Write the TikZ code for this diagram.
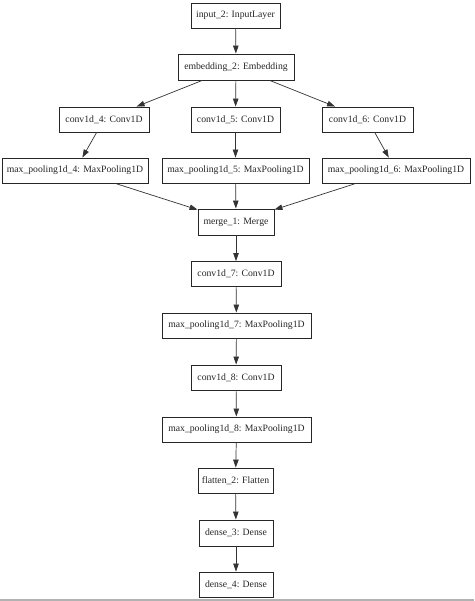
\documentclass[tikz,border=0pt]{standalone}
\usepackage{fontspec}
\setmainfont{Liberation Serif}
\usetikzlibrary{arrows.meta}
\tikzset{
  layer/.style={draw=black!85, line width=0.9pt, rectangle, inner sep=0pt, minimum height=25pt, font=\fontsize{9.7}{11}\selectfont, text=black!85},
  conn/.style={draw=black!80, line width=0.7pt, -{Triangle[length=8pt,width=5.5pt]}}
}
\begin{document}
\begin{tikzpicture}[x=1pt,y=-1pt]
\useasboundingbox (0,0) rectangle (474,601);
\fill[white] (0,0) rectangle (474,601);
\fill[black!30] (0,599) rectangle (474,601);
\node[layer, minimum width=89pt] (in) at (235.5,15.5) {input\_2: InputLayer};
\node[layer, minimum width=116pt, minimum height=26pt] (emb) at (236,67) {embedding\_2: Embedding};
\node[layer, minimum width=90pt] (c4) at (104,119.5) {conv1d\_4: Conv1D};
\node[layer, minimum width=89pt] (c5) at (235.5,119.5) {conv1d\_5: Conv1D};
\node[layer, minimum width=91pt] (c6) at (367.5,119.5) {conv1d\_6: Conv1D};
\node[layer, minimum width=146pt] (m4) at (75,170.5) {max\_pooling1d\_4: MaxPooling1D};
\node[layer, minimum width=147pt] (m5) at (235.5,170.5) {max\_pooling1d\_5: MaxPooling1D};
\node[layer, minimum width=148pt] (m6) at (396,170.5) {max\_pooling1d\_6: MaxPooling1D};
\node[layer, minimum width=76pt, minimum height=26pt] (mg) at (236,222) {merge\_1: Merge};
\node[layer, minimum width=90pt] (c7) at (236,274) {conv1d\_7: Conv1D};
\node[layer, minimum width=149pt] (m7) at (236.5,325.5) {max\_pooling1d\_7: MaxPooling1D};
\node[layer, minimum width=90pt] (c8) at (236,377.5) {conv1d\_8: Conv1D};
\node[layer, minimum width=149pt] (m8) at (236.5,429.5) {max\_pooling1d\_8: MaxPooling1D};
\node[layer, minimum width=75pt] (fl) at (235.5,480.5) {flatten\_2: Flatten};
\node[layer, minimum width=74pt, minimum height=26pt] (d3) at (236,533) {dense\_3: Dense};
\node[layer, minimum width=74pt] (d4) at (236,584.5) {dense\_4: Dense};
\draw[conn] (in) -- (emb);
\draw[conn] (emb) -- (c4);
\draw[conn] (emb) -- (c5);
\draw[conn] (emb) -- (c6);
\draw[conn] (c4) -- (m4);
\draw[conn] (c5) -- (m5);
\draw[conn] (c6) -- (m6);
\draw[conn] (m4) -- (mg);
\draw[conn] (m5) -- (mg);
\draw[conn] (m6) -- (mg);
\draw[conn] (mg) -- (c7);
\draw[conn] (c7) -- (m7);
\draw[conn] (m7) -- (c8);
\draw[conn] (c8) -- (m8);
\draw[conn] (m8) -- (fl);
\draw[conn] (fl) -- (d3);
\draw[conn] (d3) -- (d4);
\end{tikzpicture}
\end{document}
